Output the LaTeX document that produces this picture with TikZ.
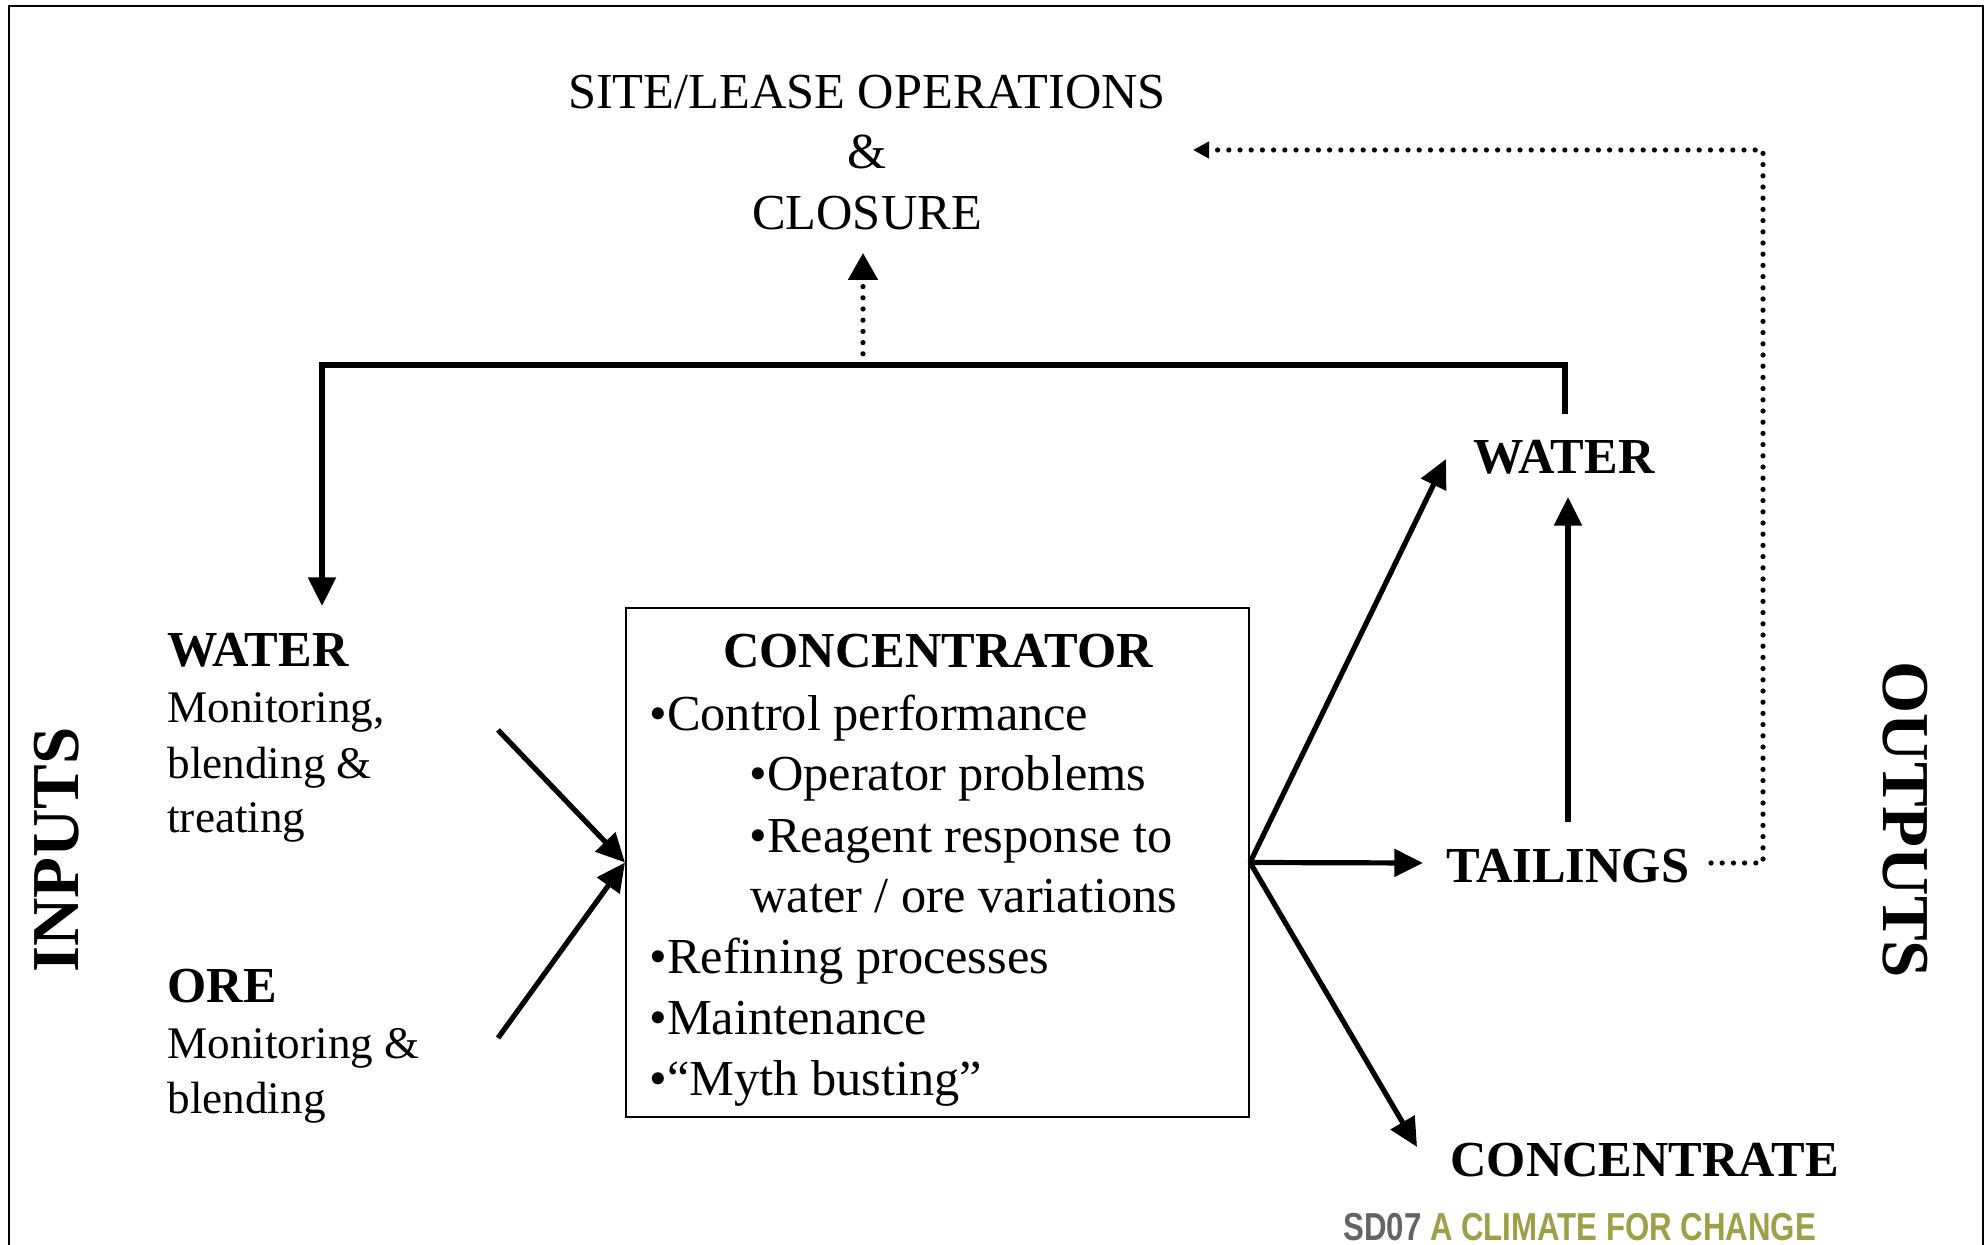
\documentclass[tikz,border=0pt]{standalone}
\usepackage{fontspec}
\usepackage{graphicx}
\setmainfont{Liberation Serif}
\newfontfamily\logofont{Liberation Sans}
\usetikzlibrary{arrows.meta}
\definecolor{logogray}{RGB}{100,100,100}
\definecolor{logoolive}{RGB}{158,160,72}

\begin{document}
\begin{tikzpicture}[x=0.5pt,y=-0.5pt,
  txt/.style={inner sep=0pt, font=\fontsize{25.2}{30}\selectfont},
  hd/.style={inner sep=0pt, font=\fontsize{25.2}{30}\selectfont\bfseries},
  sub/.style={inner sep=0pt, font=\fontsize{22.6}{27}\selectfont},
  side/.style={inner sep=0pt, font=\fontsize{33.5}{40}\selectfont\bfseries},
  flow/.style={line width=2.6pt, -{Triangle[length=14.3pt,width=13.5pt]}},
  dots/.style={line width=2.6pt, line cap=round, dash pattern=on 0pt off 5.6pt},
  frame/.style={line width=1.4pt},
  boxed/.style={draw, line width=1pt, inner sep=0pt}
]
\useasboundingbox (0,0) rectangle (1987,1245);
\fill[white] (0,0) rectangle (1987,1245);

% outer frame (open at the bottom)
\draw[frame] (9,1245) -- (9,6) -- (1983,6) -- (1983,1245);

% site / lease heading
\node[txt, anchor=base] (site1) at (867,109) {SITE/LEASE OPERATIONS};
\node[txt, anchor=base] (site2) at (867,169) {\&};
\node[txt, anchor=base] (site3) at (867,230) {CLOSURE};

% side labels
\node[side, rotate=90] (inputs) at (57,850) {INPUTS};
\node[side, rotate=-90] (outputs) at (1905,820) {OUTPUTS};

% inputs
\node[hd, anchor=base west] (inwater) at (167,667) {WATER};
\node[sub, anchor=base west] (inwater1) at (167,723) {Monitoring,};
\node[sub, anchor=base west] (inwater2) at (167,778) {blending \&};
\node[sub, anchor=base west] (inwater3) at (167,832) {treating};
\node[hd, anchor=base west] (inore) at (167,1002) {ORE};
\node[sub, anchor=base west] (inore1) at (167,1058) {Monitoring \&};
\node[sub, anchor=base west] (inore2) at (167,1113) {blending};

% concentrator box
\node[boxed, minimum width=311.5pt, minimum height=254.5pt] (conc) at (937.5,862.5) {};
\node[hd, anchor=base] (ctitle) at (938,668) {CONCENTRATOR};
\node[txt, anchor=base west] (c1) at (649,730) {•Control performance};
\node[txt, anchor=base west] (c2) at (749,791) {•Operator problems};
\node[txt, anchor=base west] (c3) at (749,852) {•Reagent response to};
\node[txt, anchor=base west] (c4) at (750,912) {water / ore variations};
\node[txt, anchor=base west] (c5) at (649,973) {•Refining processes};
\node[txt, anchor=base west] (c6) at (649,1034) {•Maintenance};
\node[txt, anchor=base west] (c7) at (649,1095) {•“Myth busting”};

% outputs
\node[hd, anchor=base] (outwater) at (1564,474) {WATER};
\node[hd, anchor=base west] (tail) at (1446,882) {TAILINGS};
\node[hd, anchor=base west] (concout) at (1450,1176) {CONCENTRATE};

% logo line
\node[anchor=base west, inner sep=0pt] (logo) at (1343,1240)
  {\logofont\bfseries\fontsize{19.5}{20}\selectfont\scalebox{0.8}[1]{\textcolor{logogray}{SD07} \textcolor{logoolive}{A CLIMATE FOR CHANGE}}};

% connector end points
\coordinate (wfrom) at (498,730);
\coordinate (ofrom) at (498,1038);
\coordinate (wtip) at (1446,459);
\coordinate (ttip) at (1423,863);
\coordinate (ctip) at (1417,1147);
\coordinate (tup) at (1568,822);
\coordinate (wbot) at (1568,497);
\coordinate (wtop) at (1565,414);
\coordinate (lwtip) at (322,606);
\coordinate (upfoot) at (863,365);
\coordinate (uptip) at (863,253);
\coordinate (dstart) at (1711,863);
\coordinate (dcorner) at (1763,150);
\coordinate (dtip) at (1193,150);

% inputs into the concentrator
\draw[flow] (wfrom) -- (conc.west);
\draw[flow] (ofrom) -- (conc.west);

% outputs from the concentrator
\draw[flow] (conc.east) -- (wtip);
\draw[flow] (conc.east) -- (ttip);
\draw[flow] (conc.east) -- (ctip);

% water recovered from tailings
\draw[flow] (tup) -- (wbot);

% water recycled back to the inputs
\draw[flow] (wtop) -- (wtop |- upfoot) -- (lwtip |- upfoot) -- (lwtip);

% links to site operations
\draw[dots, -{Triangle[length=13.5pt,width=14.5pt]}] (upfoot) -- (uptip);
\draw[dots, -{Triangle[length=8pt,width=8pt]}] (dstart) -- (dstart -| dcorner) -- (dcorner) -- (dtip);
\end{tikzpicture}
\end{document}
